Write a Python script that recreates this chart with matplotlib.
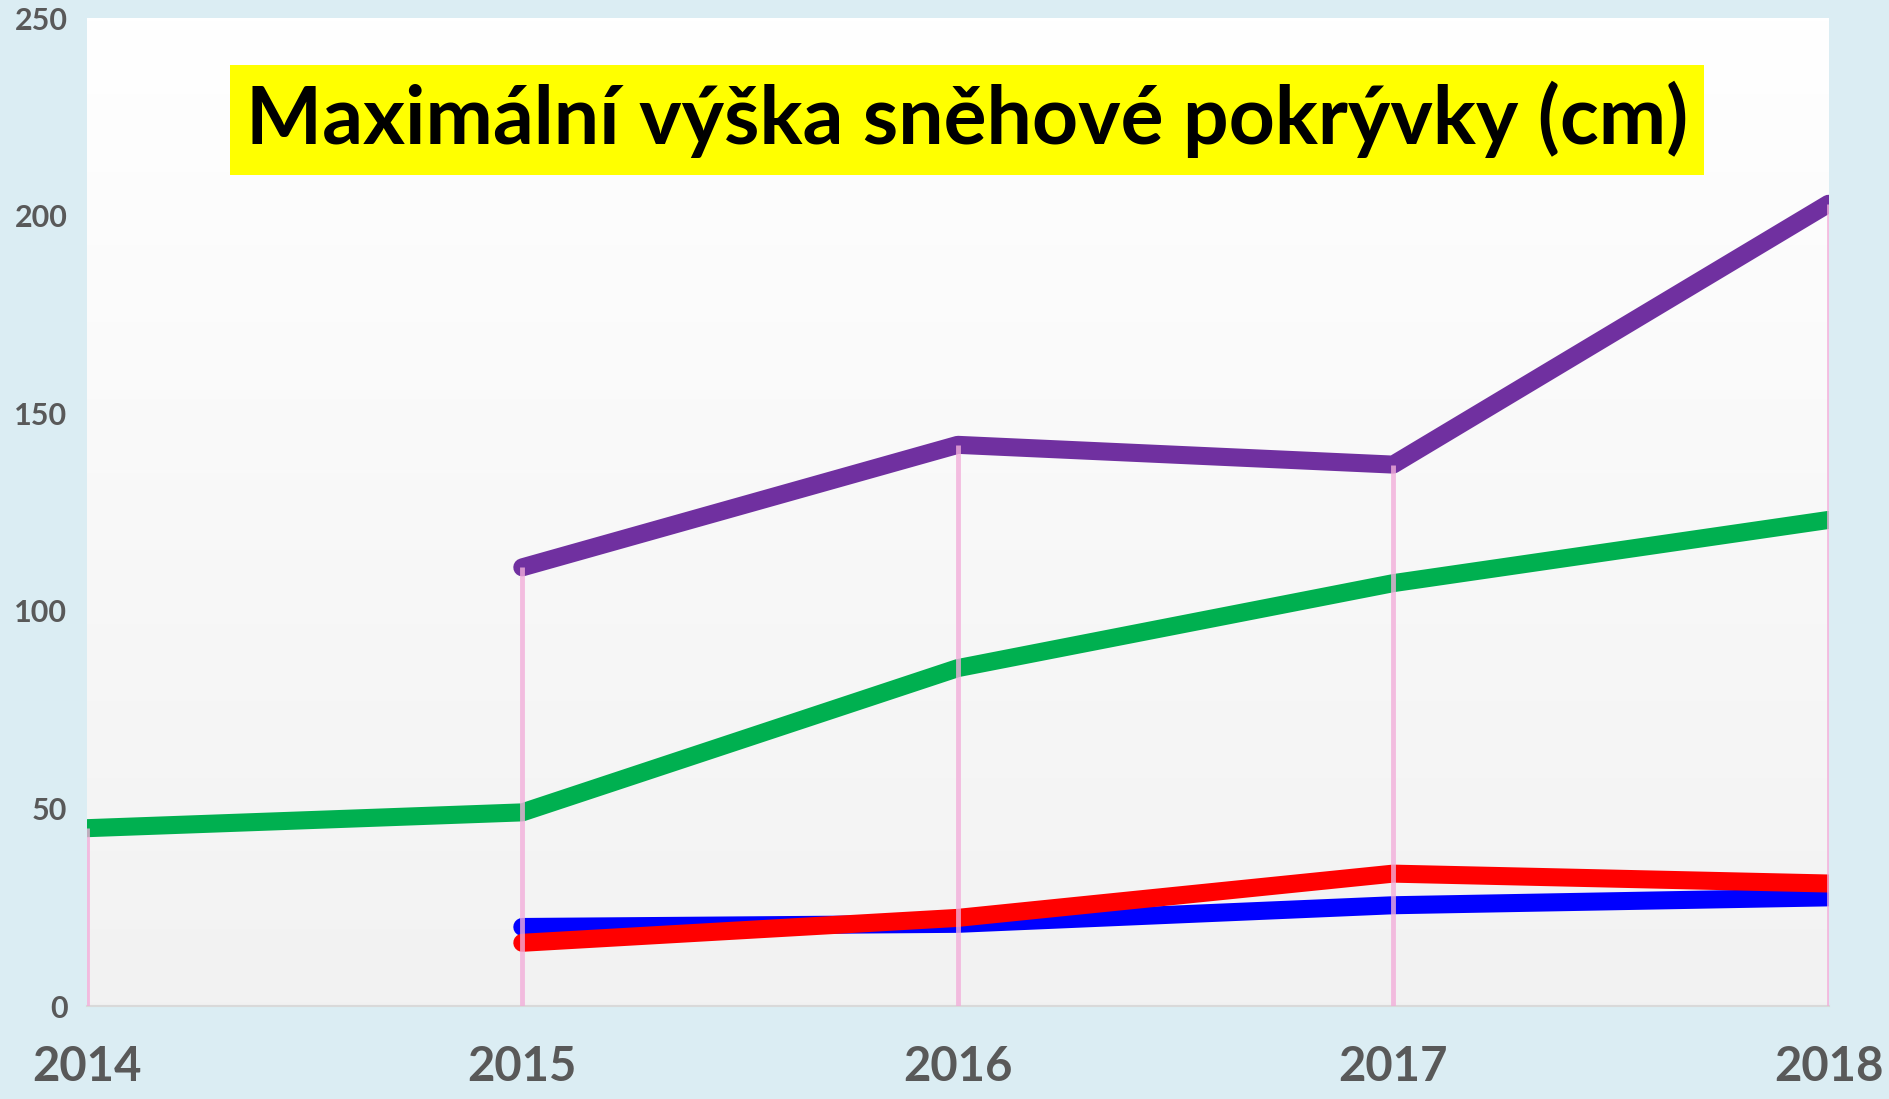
import matplotlib
matplotlib.use("Agg")
import matplotlib.pyplot as plt
import numpy as np

# data (max snow depth, cm)
years = [2014, 2015, 2016, 2017, 2018]
green = [45, 49, 85.5, 107, 123]
purple = [np.nan, 111, 142, 137, 203]
blue = [np.nan, 20, 20.8, 25.5, 27.5]
red = [np.nan, 16, 22.3, 33.5, 31]
yticks = [0, 50, 100, 150, 200, 250]
title = "Maximální výška sněhové pokrývky (cm)"

bg = "#DBEDF3"
plt.rcParams['font.family'] = ['Lato', 'DejaVu Sans']

fig = plt.figure(figsize=(18.89, 10.99), dpi=100, facecolor=bg)
ax = fig.add_axes([0.046, 0.0846, 0.922, 0.899])

# white-to-grey gradient in the plot area
grad = np.linspace(1.0, 0.949, 256).reshape(-1, 1)
ax.imshow(np.dstack([grad, grad, grad]), extent=[0, 1, 0, 1], transform=ax.transAxes,
          aspect='auto', zorder=0)

for vals, col in [(green, "#00B050"), (purple, "#7030A0"), (blue, "#0000FF"), (red, "#FF0000")]:
    ax.plot(years, vals, color=col, lw=13, solid_capstyle='round',
            solid_joinstyle='round', zorder=3)

# pink drop lines from 0 up to the highest value of each year
tops = np.nanmax(np.array([green, purple, blue, red]), axis=0)
ax.vlines(years, 0, tops, color="#F2AEDA", lw=3.5, alpha=0.8, zorder=4)

ax.set_xlim(2014, 2018)
ax.set_ylim(0, 250)
ax.set_yticks(yticks)
ax.set_xticks(years)
ax.set_xticklabels([str(y) for y in years], fontsize=34, fontweight='bold', color="#595959")
ax.set_yticklabels([str(v) for v in yticks], fontsize=22, fontweight='bold', color="#595959")
ax.tick_params(axis='both', length=0)
ax.tick_params(axis='x', pad=28)
ax.tick_params(axis='y', pad=14)
for s in ['top', 'right', 'left']:
    ax.spines[s].set_visible(False)
ax.spines['bottom'].set_color("#D9D9D9")
ax.spines['bottom'].set_linewidth(1.5)

fig.text(0.512, 0.891, title, ha='center', va='center', fontsize=58, fontweight='bold',
         color='black', bbox=dict(boxstyle='square,pad=0.2', facecolor='#FFFF00', edgecolor='none'))

fig.savefig("out.png", dpi=100, facecolor=bg)
